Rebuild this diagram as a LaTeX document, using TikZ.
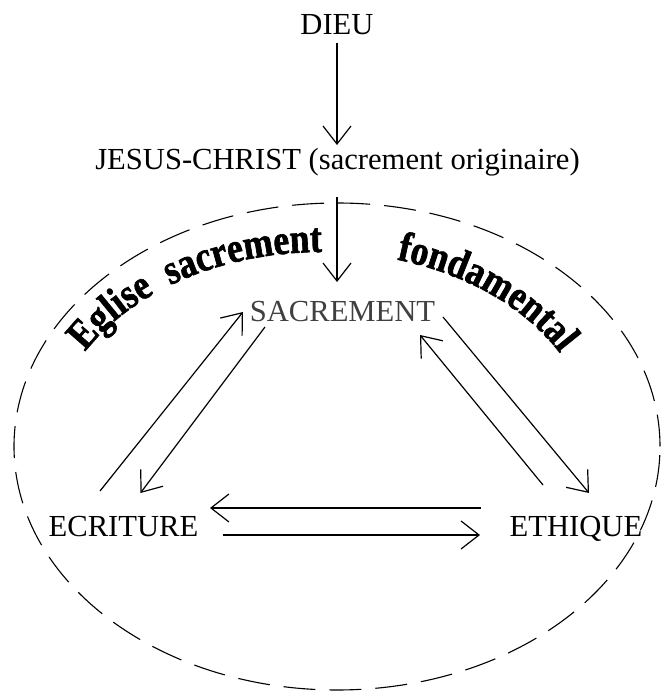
\documentclass[tikz,border=0pt]{standalone}
\usepackage{fontspec}
\setmainfont{Liberation Serif}
\newfontfamily\wordartfam{Liberation Serif}[FakeStretch=0.85,BoldFeatures={FakeBold=1.5}]
\usetikzlibrary{arrows.meta}
\usetikzlibrary{decorations.text}

\newcommand{\wordart}{\wordartfam\bfseries\fontsize{21pt}{21pt}\selectfont}

\begin{document}
\begin{tikzpicture}[x=0.5pt,y=0.5pt,line width=0.6pt,
>={Straight Barb[length=9pt,width=14pt]},
lbl/.style={inner sep=0pt,anchor=base,font=\fontsize{15.3pt}{18pt}\selectfont},
ring/.style={dash pattern=on 16pt off 7pt,line width=0.55pt}]

\useasboundingbox (0,0) rectangle (668,691);

\draw (337,656) node[lbl] (dieu) {DIEU};
\draw (337.5,521) node[lbl] (jesus) {JESUS-CHRIST (sacrement originaire)};
\draw (342.5,369) node[lbl,text=black!75] (sacr) {SACREMENT};
\draw (123.5,154) node[lbl] (ecri) {ECRITURE};
\draw (576,154) node[lbl] (ethi) {ETHIQUE};

% the church, dashed
\draw[ring] (337,244.5) ellipse [x radius=323,y radius=243.5];

% curved title
\path[decorate,decoration={text along path,text align=right,
  text={|\wordart|Eglise{ }{ }sacrement}}]
  (322+271*cos 160,245+194*sin 160) arc[start angle=160,end angle=90,x radius=271,y radius=194];
\path[decorate,decoration={text along path,text align=left,
  text={|\wordart|fondamental}}]
  (322+271*cos 74,245+194*sin 74) arc[start angle=74,end angle=18,x radius=271,y radius=194];

\draw[->] ([shift={(0,-8)}]dieu.base) -- ([shift={(-0.5,25)}]jesus.base);
\draw[->] ([shift={(-0.5,-27)}]jesus.base) -- ([shift={(-5.5,40)}]sacr.base);

\draw[->] ([shift={(-23.5,46)}]ecri.base) -- ([shift={(-99.5,10)}]sacr.base);
\draw[->] ([shift={(-77.5,-5)}]sacr.base) -- ([shift={(17,44)}]ecri.base);
\draw[->] ([shift={(100.5,5)}]sacr.base) -- ([shift={(13,44)}]ethi.base);
\draw[->] ([shift={(-33,52)}]ethi.base) -- ([shift={(77.5,-13)}]sacr.base);

\draw[->] ([shift={(-95,29)}]ethi.base) -- ([shift={(86.5,29)}]ecri.base);
\draw[->] ([shift={(99,2)}]ecri.base) -- ([shift={(-96,2)}]ethi.base);
\end{tikzpicture}
\end{document}
